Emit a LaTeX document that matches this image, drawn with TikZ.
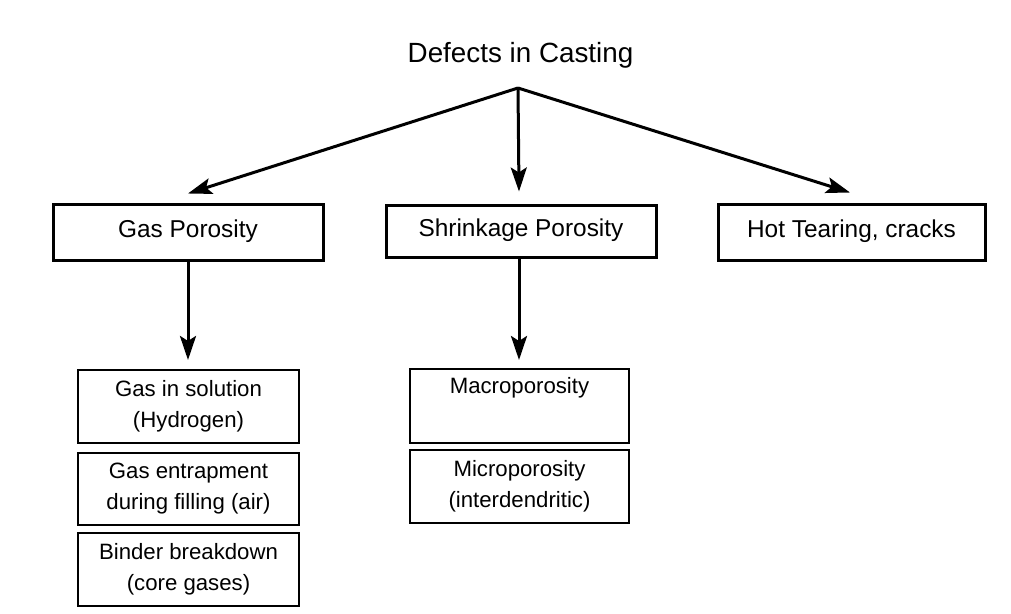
\documentclass[tikz,border=0pt]{standalone}
\usepackage{fontspec}
\setmainfont{Liberation Sans}
\usetikzlibrary{arrows.meta}
\begin{document}
\begin{tikzpicture}[x=0.5pt,y=-0.5pt,
  bigbox/.style={draw, line width=1.5pt, inner sep=0pt, minimum width=135pt,
    font=\fontsize{12.2}{14}\selectfont, text height=8.5pt, text depth=3.5pt},
  smallbox/.style={draw, line width=1pt, inner sep=0pt, minimum width=110.5pt,
    minimum height=36.5pt, align=center, font=\fontsize{11.1}{15.5}\selectfont},
  arr/.style={line width=1.5pt, -{Stealth[length=12pt,width=8pt,inset=2.5pt]}},
  titlestyle/.style={font=\fontsize{13.9}{16}\selectfont, inner sep=0pt}]
\fill[white] (0,0) rectangle (1011,614);
\node[titlestyle, anchor=base] (title) at (520.5,63) {Defects in Casting};
\coordinate (apex) at (518,88);
\node[bigbox, minimum height=28pt] (gas) at (188,233) {Gas Porosity};
\node[bigbox, minimum height=26pt] (shrink) at (521,232) {Shrinkage Porosity};
\node[bigbox, minimum height=28pt, minimum width=133.5pt] (hot) at (851.5,233) {Hot Tearing, cracks};
\node[smallbox] (g1) at (188.5,406.5) {Gas in solution\\(Hydrogen)};
\node[smallbox, minimum height=36pt] (g2) at (188.5,489) {Gas entrapment\\during filling (air)};
\node[smallbox] (g3) at (188.5,569.5) {Binder breakdown\\(core gases)};
\node[smallbox, minimum width=109.5pt, minimum height=37pt] (m1) at (519.5,406) {Macroporosity\\\strut};
\node[smallbox, minimum width=109.5pt] (m2) at (519.5,486.5) {Microporosity\\(interdendritic)};
\draw[arr] (apex) -- ([yshift=5pt]gas.north);
\draw[arr] (apex) -- ([xshift=-1pt,yshift=6.5pt]shrink.north);
\draw[arr] (apex) -- ([xshift=-0.75pt,yshift=5.5pt]hot.north);
\draw[arr, shorten >=4.5pt] (gas.south) -- (gas.south |- g1.north);
\draw[arr, shorten >=4pt] ([xshift=-1pt]shrink.south) -- ([xshift=-1pt]shrink.south |- m1.north);
\end{tikzpicture}
\end{document}
